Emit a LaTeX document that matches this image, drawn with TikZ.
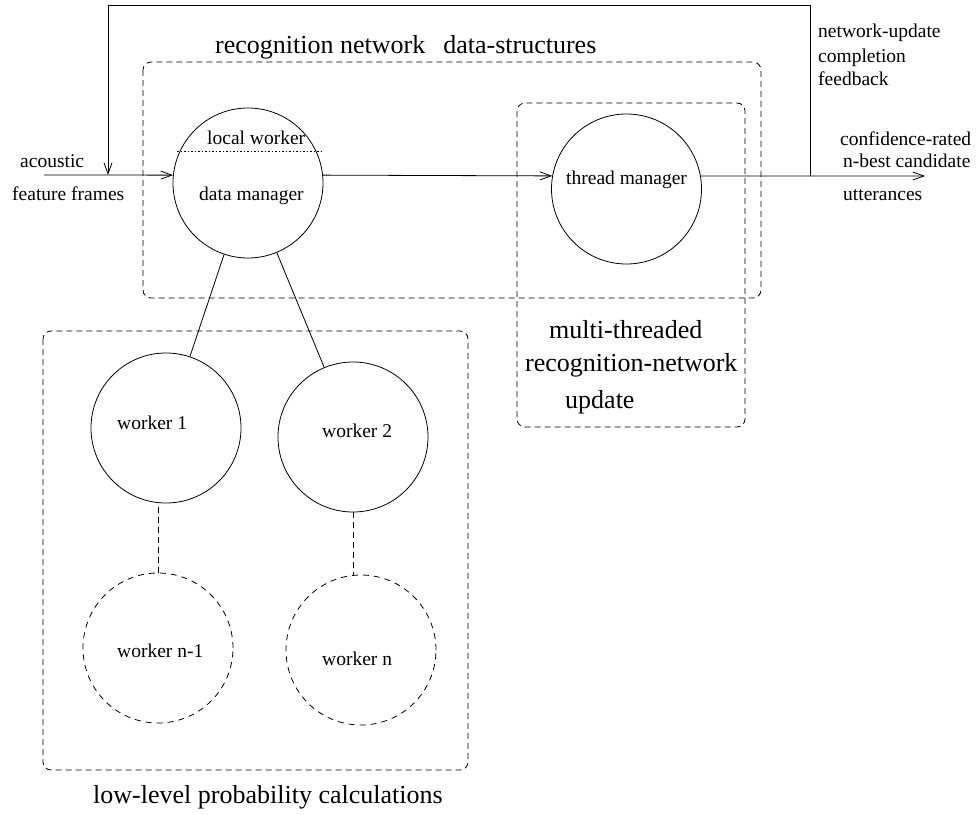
\documentclass[tikz,border=0pt]{standalone}
\usepackage{fontspec}
\setmainfont{Liberation Serif}
\usetikzlibrary{arrows.meta}
\begin{document}
\begin{tikzpicture}[x=1pt,y=-1pt,
  lw/.style={line width=0.8pt},
  proc/.style={circle,draw,lw,minimum size=150pt,inner sep=0pt},
  dproc/.style={proc,dash pattern=on 6pt off 5pt},
  dbox/.style={draw,lw,dash pattern=on 6pt off 4pt,rounded corners=8pt},
  smalltxt/.style={font=\fontsize{19.5}{23}\selectfont,inner sep=0pt,anchor=base west},
  bigtxt/.style={font=\fontsize{26}{30}\selectfont,inner sep=0pt,anchor=base west},
  arr/.style={lw,-{Straight Barb[length=11pt,width=8pt]}},
  conn/.style={lw},
  dconn/.style={lw,dash pattern=on 6pt off 4pt}]
\useasboundingbox (0,0) rectangle (977,814);

% boxes
\draw[dbox] (143,62) rectangle (761,298);
\draw[dbox] (517,103) rectangle (745,427);
\draw[dbox] (43,331) rectangle (468,770);

% circles
\node[proc] (dm) at (248,183) {};
\node[proc] (tm) at (626.5,189) {};
\node[proc] (w1) at (166,428) {};
\node[proc] (w2) at (353,437) {};
\node[dproc] (wn1) at (158,648) {};
\node[dproc] (wn) at (361,650) {};

% dotted divider in data manager
\coordinate (dl) at (177,151);
\coordinate (dr) at (322,151);
\draw[lw,dash pattern=on 1.5pt off 2pt] (dl) -- (dr);

% coordinates
\coordinate (in) at (44,175);
\coordinate (out) at (925,176);
\coordinate (j) at (810,176);
\coordinate (c1) at (810,5);
\coordinate (c2) at (108,5);
\coordinate (fb) at (108,175);

% connectors
\draw[arr] (in) -- (dm.174);
\draw[arr] (dm.6) -- (tm.170);
\draw[arr] (tm.10) -- (out);
\draw[arr] (j) -- (c1) -- (c2) -- (fb);
\draw[conn] (dm) -- (w1);
\draw[conn] (dm) -- (w2);
\draw[dconn] (wn1.north) -- (wn1.north |- w1.south);
\draw[dconn] (w2.south) -- (w2.south |- wn.north);

% small texts
\node[smalltxt] (tacoustic) at (20,167) {acoustic};
\node[smalltxt] (tfeature) at (12,200) {feature frames};
\node[smalltxt] (tlocal) at (207,144) {local worker};
\node[smalltxt] (tdata) at (199,200) {data manager};
\node[smalltxt] (tthread) at (566,184) {thread manager};
\node[smalltxt] (tw1) at (117,429) {worker 1};
\node[smalltxt] (tw2) at (322,437) {worker 2};
\node[smalltxt] (twn1) at (117,657) {worker n-1};
\node[smalltxt] (twn) at (322,665) {worker n};
\node[smalltxt] (tnu) at (818,37) {network-update};
\node[smalltxt] (tcomp) at (818,62) {completion};
\node[smalltxt] (tfeed) at (818,85) {feedback};
\node[smalltxt] (tconf) at (840,145) {confidence-rated};
\node[smalltxt] (tnbest) at (843,167) {n-best candidate};
\node[smalltxt] (tutt) at (843,200) {utterances};

% big texts
\node[bigtxt] (trec) at (215,53) {recognition network\hspace{11.5pt} data-structures};
\node[bigtxt] (tmulti) at (549,338) {multi-threaded};
\node[bigtxt] (trecnet) at (525,371) {recognition-network};
\node[bigtxt] (tupd) at (565,408) {update};
\node[bigtxt] (tlow) at (93,803) {low-level probability calculations};
\end{tikzpicture}
\end{document}
